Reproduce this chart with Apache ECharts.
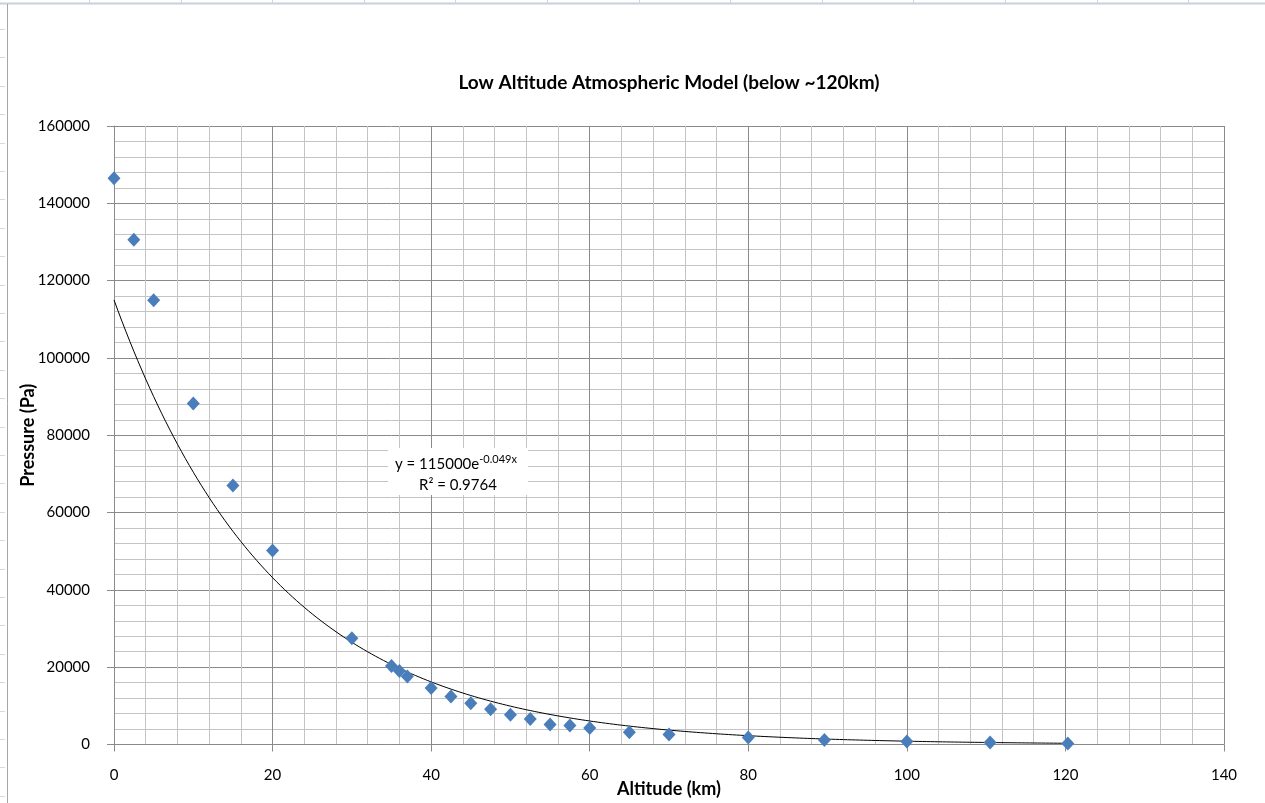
<!DOCTYPE html>
<html>
<head>
<meta charset="utf-8">
<script src="https://cdn.jsdelivr.net/npm/echarts@6/dist/echarts.min.js"></script>
<style>
  html, body { margin: 0; padding: 0; background: #ffffff; }
  #chart { width: 1265px; height: 803px; }
</style>
</head>
<body>
<div id="chart"></div>
<script>
// Measured pressure vs altitude samples
const altitudeKm = [0, 2.5, 5, 10, 15, 20, 30, 35, 36, 37, 40, 42.5, 45, 47.5, 50, 52.5, 55, 57.5, 60, 65, 70, 80, 89.6, 100, 110.5, 120.3];
const pressurePa = [146500, 130600, 114900, 88200, 67000, 50200, 27500, 20300, 19000, 17600, 14600, 12400, 10700, 9100, 7700, 6600, 5200, 4900, 4300, 3200, 2600, 1800, 1150, 800, 530, 270];

// Exponential fit y = A e^(k x), as stated on the chart
const fitA = 115000;
const fitK = -0.049;
const fitR2 = '0.9764';

// Axis tick labels
const xTicks = ['0', '20', '40', '60', '80', '100', '120', '140'];
const yTicks = ['0', '20000', '40000', '60000', '80000', '100000', '120000', '140000', '160000'];

const samples = altitudeKm.map((x, i) => [x, pressurePa[i]]);

// Trendline spans the sampled altitude range
const xStart = Math.min(...altitudeKm);
const xEnd = Math.max(...altitudeKm);
const trend = [];
for (let x = xStart; x <= xEnd + 1e-9; x += 0.5) trend.push([x, fitA * Math.exp(fitK * x)]);
trend.push([xEnd, fitA * Math.exp(fitK * xEnd)]);

const FONT = 'Lato, "Liberation Sans", sans-serif';
const MAJOR = '#8a8a8a';
const MINOR = '#c4c4c4';
const EQ_FONT = '15px ' + FONT;
const SUP_FONT = '11px ' + FONT;

// width of the equation's main part, so the exponent sits right after it
const eqMain = 'y = ' + fitA + 'e';
const ctx = document.createElement('canvas').getContext('2d');
ctx.font = EQ_FONT;
const eqMainWidth = ctx.measureText(eqMain).width;

const chart = echarts.init(document.getElementById('chart'), null, { renderer: 'canvas' });

// Spreadsheet cell edges peeking around the chart frame
const frameMarks = [];
for (let y = 29; y < 803; y += 28.4) {
  frameMarks.push({ type: 'line', shape: { x1: 0, y1: Math.round(y) + 0.5, x2: 5, y2: Math.round(y) + 0.5 }, style: { stroke: '#d3d8e4', lineWidth: 1 }, silent: true });
}
for (let x = 89; x < 1265; x += 91.6) {
  frameMarks.push({ type: 'line', shape: { x1: Math.round(x) + 0.5, y1: 0, x2: Math.round(x) + 0.5, y2: 4 }, style: { stroke: '#cfd5e2', lineWidth: 1 }, silent: true });
}

const eqLeft = 395;
chart.setOption({
  animation: false,
  backgroundColor: '#ffffff',
  title: {
    text: 'Low Altitude Atmospheric Model (below ~120km)',
    left: 664, top: 68, textAlign: 'center',
    textStyle: { fontFamily: FONT, fontSize: 19, fontWeight: 'bold', color: '#000000' }
  },
  grid: { left: 114, right: 41, top: 126, bottom: 58.5, containLabel: false, outerBoundsMode: 'none' },
  xAxis: {
    type: 'value', min: 0, max: 140, interval: 20,
    name: 'Altitude (km)', nameLocation: 'middle', nameGap: 36, nameMoveOverlap: false,
    nameTextStyle: { fontFamily: FONT, fontSize: 18, fontWeight: 'bold', color: '#000000' },
    axisLine: { show: true, onZero: false, lineStyle: { color: MAJOR, width: 1 } },
    axisTick: { show: true, inside: false, length: 7, lineStyle: { color: MAJOR } },
    axisLabel: { margin: 23, fontFamily: FONT, fontSize: 15, color: '#000000', formatter: v => xTicks[Math.round(v / 20)] },
    splitLine: { show: true, lineStyle: { color: MAJOR, width: 1 } },
    minorTick: { show: false, splitNumber: 5 },
    minorSplitLine: { show: true, lineStyle: { color: MINOR, width: 1 } }
  },
  yAxis: {
    type: 'value', min: 0, max: 160000, interval: 20000,
    name: 'Pressure (Pa)', nameLocation: 'middle', nameGap: 77, nameRotate: 90, nameMoveOverlap: false,
    nameTextStyle: { fontFamily: FONT, fontSize: 18, fontWeight: 'bold', color: '#000000' },
    axisLine: { show: true, lineStyle: { color: MAJOR, width: 1 } },
    axisTick: { show: true, inside: false, length: 7, lineStyle: { color: MAJOR } },
    axisLabel: { margin: 24, fontFamily: FONT, fontSize: 15, color: '#000000', formatter: v => yTicks[Math.round(v / 20000)] },
    splitLine: { show: true, lineStyle: { color: MAJOR, width: 1 } },
    minorTick: { show: false, splitNumber: 5 },
    minorSplitLine: { show: true, lineStyle: { color: MINOR, width: 1 } }
  },
  series: [
    {
      name: 'Trend', type: 'line', data: trend, showSymbol: false, symbol: 'none',
      lineStyle: { color: '#000000', width: 1 }, z: 3, silent: true
    },
    {
      name: 'Pressure', type: 'scatter', data: samples,
      symbol: 'diamond', symbolSize: [13, 14],
      itemStyle: { color: '#4a7ebb', opacity: 1 }, z: 4
    }
  ],
  graphic: [
    // chart frame edges
    { type: 'line', shape: { x1: 0, y1: 3.5, x2: 1265, y2: 3.5 }, style: { stroke: '#c9cfdc', lineWidth: 2 }, silent: true },
    { type: 'line', shape: { x1: 7.5, y1: 4, x2: 7.5, y2: 803 }, style: { stroke: '#a6a6a6', lineWidth: 1 }, silent: true },
    ...frameMarks,
    // trendline equation box
    { type: 'rect', shape: { x: 388, y: 448, width: 140, height: 47 }, style: { fill: '#ffffff' }, z: 10, silent: true },
    { type: 'text', x: eqLeft, y: 464, z: 11, silent: true,
      style: { text: eqMain, font: EQ_FONT, fill: '#000000', align: 'left', verticalAlign: 'middle' } },
    { type: 'text', x: eqLeft + eqMainWidth, y: 459, z: 11, silent: true,
      style: { text: String(fitK) + 'x', font: SUP_FONT, fill: '#000000', align: 'left', verticalAlign: 'middle' } },
    { type: 'text', x: 458, y: 485, z: 11, silent: true,
      style: { text: 'R² = ' + fitR2, font: EQ_FONT, fill: '#000000', align: 'center', verticalAlign: 'middle' } }
  ]
});
</script>
</body>
</html>
